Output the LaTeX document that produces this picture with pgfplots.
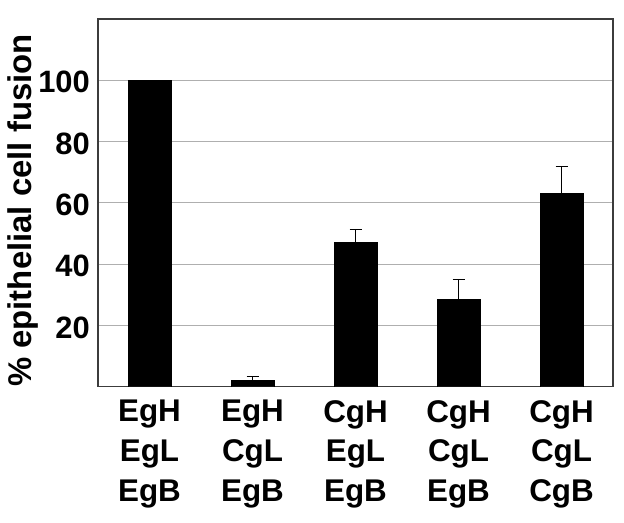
\documentclass[border=0pt]{standalone}
\usepackage{pgfplots}
\pgfplotsset{compat=1.18}
\usepackage{fontspec}
\setmainfont{Liberation Sans}
\definecolor{gridgray}{RGB}{175,175,175}
\definecolor{framegray}{RGB}{60,60,60}
\begin{document}
\begin{tikzpicture}
\path[use as bounding box] (0,0) rectangle (624bp,523bp);
\begin{axis}[
  at={(98bp,136.3bp)}, anchor=south west,
  scale only axis, width=515bp, height=367.7bp,
  xmin=-0.5, xmax=4.5, ymin=0, ymax=120,
  axis line style={framegray, line width=1.1pt},
  ytick={20,40,60,80,100},
  yticklabels={20,40,60,80,100},
  xtick={0,1,2,3,4},
  xticklabels={{EgH\\EgL\\EgB},{EgH\\CgL\\EgB},{CgH\\EgL\\EgB},{CgH\\CgL\\EgB},{CgH\\CgL\\CgB}},
  major tick length=0pt,
  ymajorgrids, major grid style={gridgray, line width=0.8pt},
  yticklabel style={font=\fontsize{31}{36}\selectfont\bfseries, anchor=east, inner sep=0pt, xshift=-8bp, yshift=-2bp},
  xticklabel style={font=\fontsize{31.5}{40}\selectfont\bfseries, align=center, anchor=north, inner sep=0pt, yshift=-13.3bp},
  ylabel={\% epithelial cell fusion},
  ylabel style={at={(axis description cs:-0.1287,0.479)}, anchor=base, rotate=0, font=\fontsize{33}{36}\selectfont\bfseries},
]
\addplot[ybar, bar width=43bp, fill=black, draw=black,
  error bars/.cd, y dir=plus, y explicit,
  error bar style={black, line width=1.2pt},
  error mark options={black, line width=1.2pt, mark size=6bp, rotate=90}]
  coordinates {
  (0,100) +- (0,0)
  (1,2.1) +- (0,1.1)
  (2,47.0) +- (0,4.2)
  (3,28.5) +- (0,6.6)
  (4,63.2) +- (0,8.6)
  };
\end{axis}
\end{tikzpicture}
\end{document}
